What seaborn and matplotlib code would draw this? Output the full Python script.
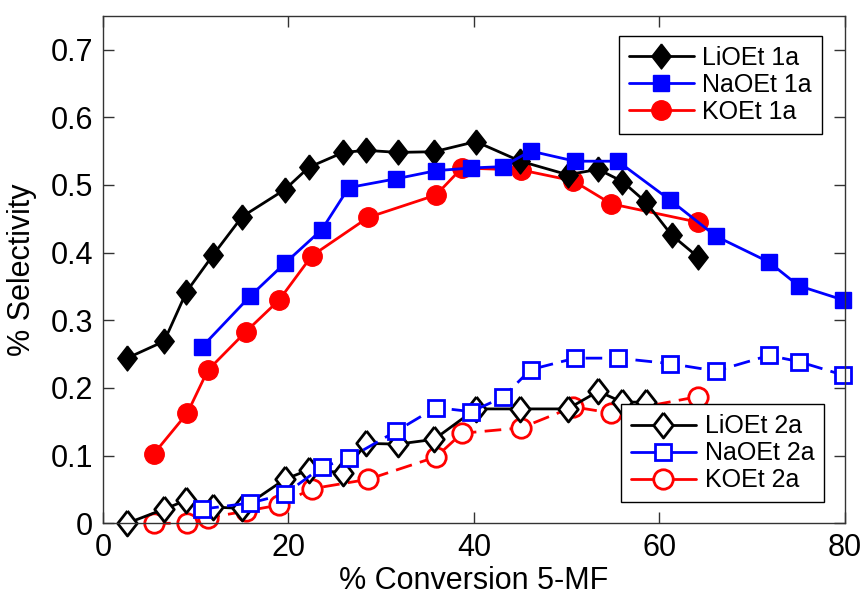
import matplotlib
matplotlib.use("Agg")
import matplotlib.pyplot as plt
import seaborn as sns
import numpy as np
from matplotlib.lines import Line2D

# ---- data ----
li_x = [2.6, 6.6, 9.0, 11.9, 15.0, 19.6, 22.2, 25.9, 28.4, 31.8, 35.7, 40.2, 45.0,
        50.1, 53.4, 56.0, 58.5, 61.3, 64.1]
li_1a = [0.244, 0.269, 0.342, 0.397, 0.453, 0.493, 0.526, 0.548, 0.551, 0.548, 0.549,
         0.564, 0.535, 0.515, 0.523, 0.505, 0.475, 0.426, 0.394]
li_2a_x = li_x[:17]
li_2a = [0.0, 0.021, 0.034, 0.024, 0.022, 0.065, 0.079, 0.075, 0.118, 0.117, 0.124,
         0.169, 0.169, 0.169, 0.195, 0.179, 0.179]

na_x = [10.7, 15.9, 19.6, 23.6, 26.5, 31.6, 35.9, 39.7, 43.1, 46.1, 50.9, 55.5, 61.1,
        66.1, 71.8, 75.0, 79.8]
na_1a = [0.261, 0.336, 0.384, 0.434, 0.496, 0.509, 0.521, 0.525, 0.527, 0.550, 0.535,
         0.535, 0.478, 0.424, 0.386, 0.351, 0.330]
na_2a = [0.021, 0.030, 0.043, 0.083, 0.096, 0.136, 0.171, 0.165, 0.186, 0.227, 0.244,
         0.244, 0.236, 0.225, 0.248, 0.239, 0.219]

k_x = [5.5, 9.1, 11.3, 15.4, 19.0, 22.5, 28.6, 35.9, 38.7, 45.1, 50.7, 54.8, 64.1]
k_1a = [0.103, 0.163, 0.226, 0.283, 0.330, 0.395, 0.452, 0.485, 0.525, 0.522, 0.506,
        0.472, 0.445]
k_2a = [0.0, 0.0, 0.008, 0.018, 0.027, 0.051, 0.065, 0.098, 0.133, 0.141, 0.172,
        0.163, 0.187]

x_ticks = [0, 20, 40, 60, 80]
y_ticks = [0, 0.1, 0.2, 0.3, 0.4, 0.5, 0.6, 0.7]
y_tick_labels = ["0", "0.1", "0.2", "0.3", "0.4", "0.5", "0.6", "0.7"]
labels_1a = ["LiOEt 1a", "NaOEt 1a", "KOEt 1a"]
labels_2a = ["LiOEt 2a", "NaOEt 2a", "KOEt 2a"]

# ---- style ----
sns.set_theme(style="ticks")
plt.rcParams["font.family"] = ["Liberation Sans", "DejaVu Sans"]
plt.rcParams["text.color"] = "black"
plt.rcParams["axes.labelcolor"] = "black"
plt.rcParams["xtick.labelcolor"] = "black"
plt.rcParams["ytick.labelcolor"] = "black"

fig = plt.figure(figsize=(8.61, 6.01), dpi=100)
ax = fig.add_axes([0.1196, 0.1293, 0.8618, 0.8446])

diamond = [(0, 1), (0.78, 0), (0, -1), (-0.78, 0), (0, 1)]
dash = (0, (6, 3))
lw = 2.0

common = dict(ax=ax, sort=False, legend=False, estimator=None, clip_on=False)

# 2a series (open markers)
sns.lineplot(x=k_x, y=k_2a, color="red", linestyle=dash, lw=lw, marker="o", ms=14,
             mfc="white", mec="red", mew=2, **common)
sns.lineplot(x=li_2a_x, y=li_2a, color="black", lw=lw, marker=diamond, ms=18,
             mfc="white", mec="black", mew=2, **common)
sns.lineplot(x=na_x, y=na_2a, color="blue", linestyle=dash, lw=lw, marker="s", ms=12,
             mfc="white", mec="blue", mew=2, **common)

# 1a series (filled markers)
sns.lineplot(x=k_x, y=k_1a, color="red", lw=lw, marker="o", ms=14,
             mfc="red", mec="red", mew=1, **common)
sns.lineplot(x=li_x, y=li_1a, color="black", lw=lw, marker=diamond, ms=18,
             mfc="black", mec="black", mew=1, **common)
sns.lineplot(x=na_x, y=na_1a, color="blue", lw=lw, marker="s", ms=12,
             mfc="blue", mec="blue", mew=1, **common)

ax.set_xlim(0, 80)
ax.set_ylim(0, 0.75)
ax.set_xticks(x_ticks)
ax.set_xticklabels([str(t) for t in x_ticks])
ax.set_yticks(y_ticks)
ax.set_yticklabels(y_tick_labels)
ax.tick_params(direction="in", length=8, width=1, labelsize=22, top=True, right=True,
               color="#333333", labelcolor="black", pad=7)
for sp in ax.spines.values():
    sp.set_visible(True)
    sp.set_linewidth(1.0)
    sp.set_color("#333333")
ax.set_xlabel("% Conversion 5-MF", fontsize=22, labelpad=2, color="black")
ax.set_ylabel("% Selectivity", fontsize=22, labelpad=10, color="black")

# legends
h1 = [Line2D([], [], color="black", lw=lw, marker=diamond, ms=18, mfc="black", mec="black"),
      Line2D([], [], color="blue", lw=lw, marker="s", ms=12, mfc="blue", mec="blue"),
      Line2D([], [], color="red", lw=lw, marker="o", ms=14, mfc="red", mec="red")]
h2 = [Line2D([], [], color="black", lw=lw, marker=diamond, ms=18, mfc="white", mec="black", mew=2),
      Line2D([], [], color="blue", lw=lw, marker="s", ms=12, mfc="white", mec="blue", mew=2),
      Line2D([], [], color="red", lw=lw, marker="o", ms=14, mfc="white", mec="red", mew=2)]

legkw = dict(fontsize=18, frameon=True, fancybox=False, framealpha=1, edgecolor="black",
             handlelength=2.6, handletextpad=0.35, labelspacing=0.12, borderpad=0.4,
             borderaxespad=0, labelcolor="black")
leg1 = ax.legend(h1, labels_1a, loc="upper right", bbox_to_anchor=(0.969, 0.960), **legkw)
leg1.get_frame().set_linewidth(1.0)
ax.add_artist(leg1)
leg2 = ax.legend(h2, labels_2a, loc="lower right", bbox_to_anchor=(0.972, 0.041), **legkw)
leg2.get_frame().set_linewidth(1.0)

fig.savefig("out.png", dpi=100)
